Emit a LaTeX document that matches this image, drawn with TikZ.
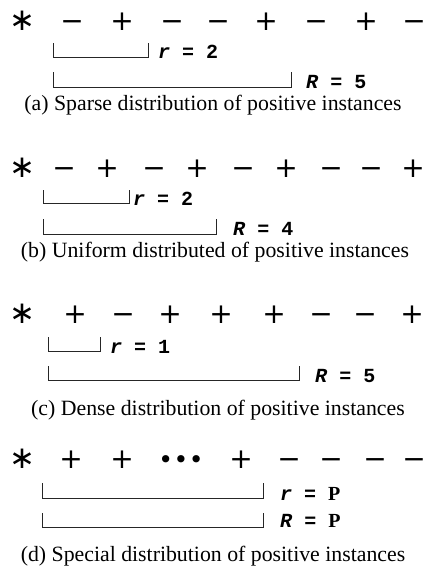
\documentclass[tikz,border=0pt]{standalone}
\usepackage{fontspec}
\setmainfont{Liberation Serif}
\newfontfamily\lblfont{Liberation Mono}
\newfontfamily\symbfont{DejaVu Sans}
\usepackage{tikz}
\usetikzlibrary{positioning}

\begin{document}
\begin{tikzpicture}[
  x=1pt, y=-1pt,
  symb/.style={inner sep=0pt, anchor=base, font=\symbfont\fontsize{28}{30}\selectfont},
  brk/.style={line width=0.8pt, black!85},
  lbl/.style={inner sep=0pt, anchor=base west, font=\lblfont\bfseries\fontsize{20}{22}\selectfont},
  captext/.style={inner sep=0pt, anchor=base, font=\fontsize{21.8}{24}\selectfont},
]
  \useasboundingbox (0,0) rectangle (426,566);
  \def\star{{\fontsize{31}{31}\selectfont ∗}}

  % (a) sparse
  \foreach \x/\s [count=\i] in {22/\star, 72/−, 122/+, 172/−, 218/−, 266/+, 316/−, 366/+, 414/−}
    \node[symb] (a\i) at (\x,30) {\s};
  \draw[brk] (53,43) |- (148,57) -- (148,43);
  \node[lbl] (ra) at (158,58) {\textit{r} = 2};
  \draw[brk] (53,72) |- (291,87) -- (291,72);
  \node[lbl] (Ra) at (306,88) {\textit{R} = 5};
  \node[captext] (capa) at (213,110) {(a) Sparse distribution of positive instances};

  % (b) uniform
  \foreach \x/\s [count=\i] in {22/\star, 64/−, 107/+, 154/−, 197/+, 243/−, 286/+, 331/−, 371/−, 413/+}
    \node[symb] (b\i) at (\x,177) {\s};
  \draw[brk] (43,190) |- (129,203) -- (129,190);
  \node[lbl] (rb) at (133,205) {\textit{r} = 2};
  \draw[brk] (43,219) |- (216,234) -- (216,219);
  \node[lbl] (Rb) at (233,235) {\textit{R} = 4};
  \node[captext] (capb) at (215,257) {(b) Uniform distributed of positive instances};

  % (c) dense
  \foreach \x/\s [count=\i] in {22/\star, 75/+, 123/−, 170/+, 221/+, 274/+, 321/−, 365/−, 412/+}
    \node[symb] (c\i) at (\x,323) {\s};
  \draw[brk] (48,337) |- (100,351) -- (100,337);
  \node[lbl] (rc) at (110,353) {\textit{r} = 1};
  \draw[brk] (48,366) |- (299,380) -- (299,366);
  \node[lbl] (Rc) at (315,382) {\textit{R} = 5};
  \node[captext] (capc) at (218,415) {(c) Dense distribution of positive instances};

  % (d) special
  \foreach \x/\s [count=\i] in {22/\star, 71/+, 122/+, 181/{\fontsize{25}{25}\selectfont •\kern0.5pt•\kern0.5pt•}, 241/+, 289/−, 331/−, 375/−, 414/−}
    \node[symb] (d\i) at (\x,468) {\s};
  \draw[brk] (42,483) |- (263,498) -- (263,483);
  \node[lbl] (rd) at (280,500) {\textit{r} = \textrm{P}};
  \draw[brk] (42,513) |- (263,527) -- (263,513);
  \node[lbl] (Rd) at (280,527) {\textit{R} = \textrm{P}};
  \node[captext] (capd) at (213,561) {(d) Special distribution of positive instances};

\end{tikzpicture}
\end{document}
